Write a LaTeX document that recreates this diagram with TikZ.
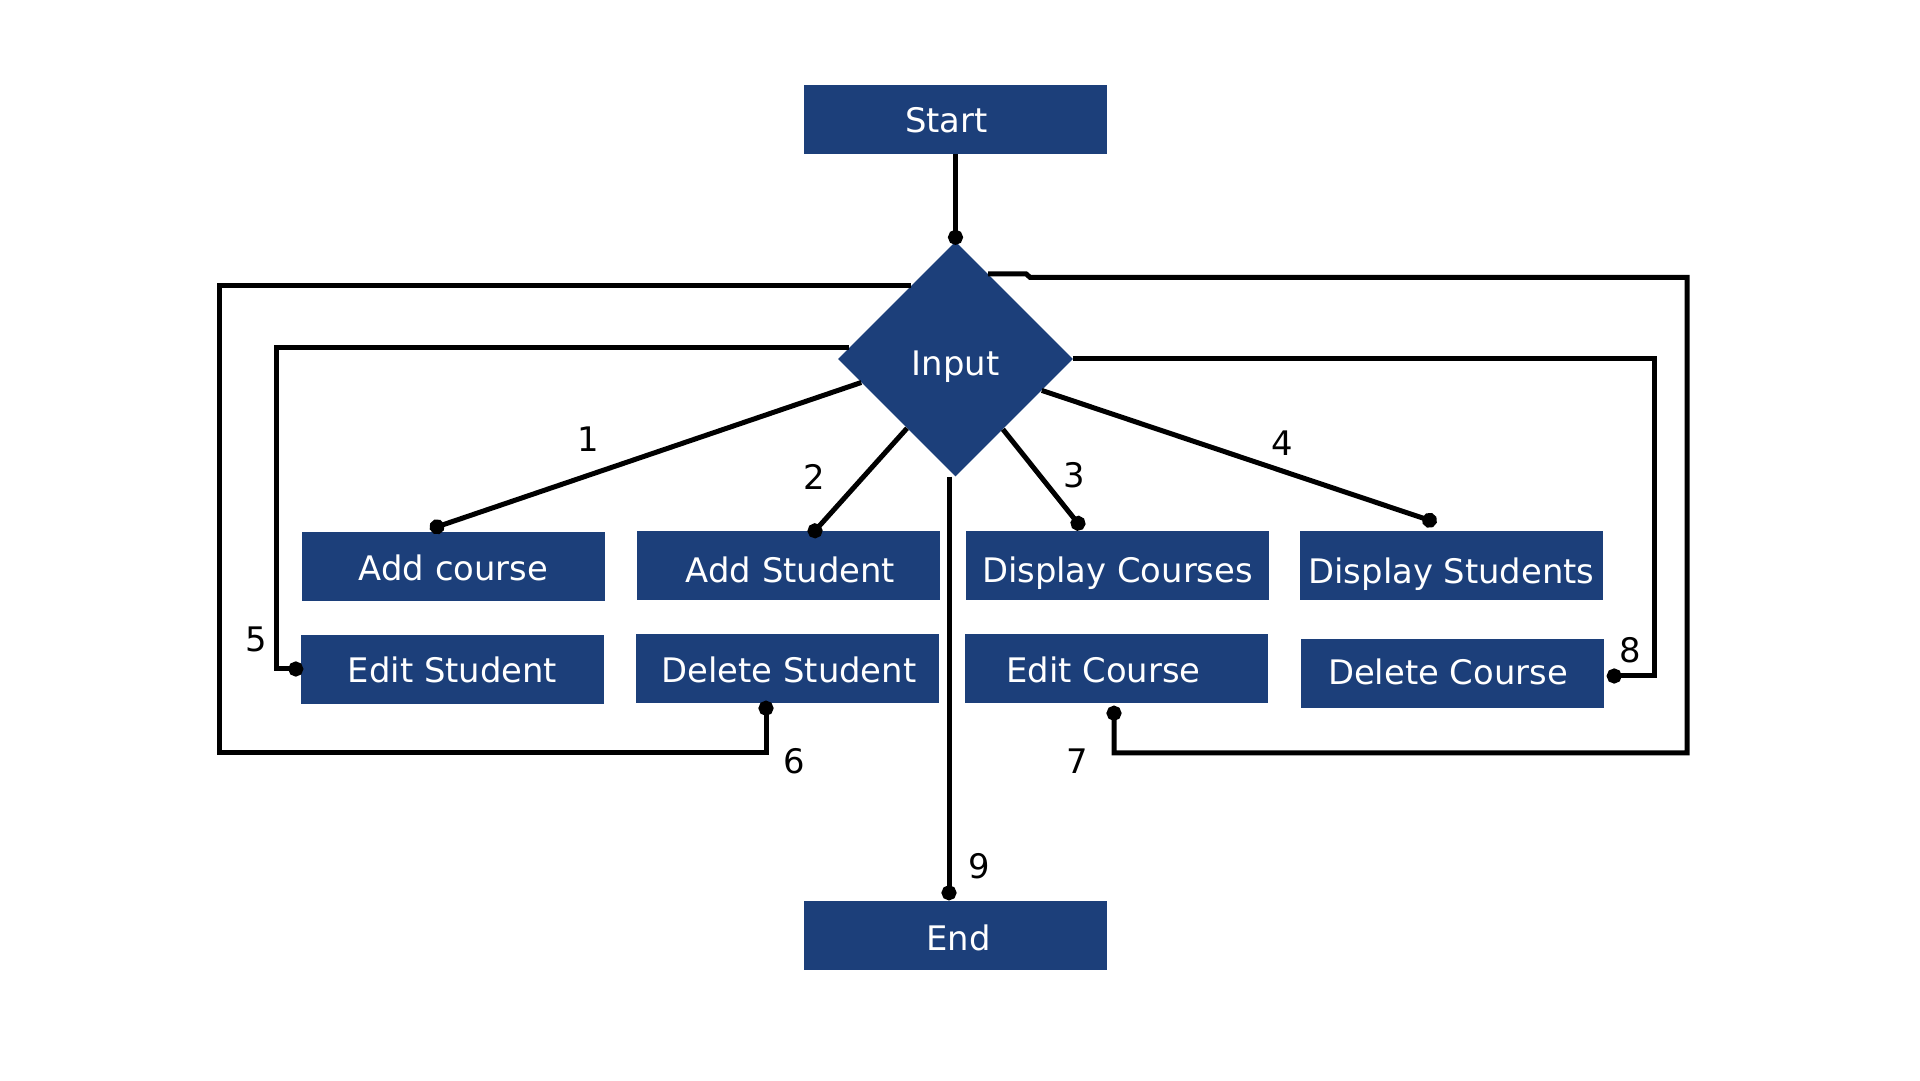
\documentclass[tikz,border=0pt]{standalone}
\usepackage{fontspec}
\setmainfont{DejaVu Sans}
\usetikzlibrary{shapes.geometric,arrows.meta,calc}
\definecolor{navy}{RGB}{28,63,122}
\newcommand{\boxfont}{\fontsize{33.8pt}{40pt}\selectfont}
\begin{document}
\begin{tikzpicture}[x=1pt,y=1pt,
 box/.style={fill=navy,text=white,minimum width=303pt,minimum height=69pt,inner sep=0pt,font=\boxfont,text height=28.6pt,text depth=0pt},
 dec/.style={diamond,fill=navy,text=white,minimum width=235pt,minimum height=235pt,aspect=1,inner sep=0pt,font=\boxfont,text height=32.6pt,text depth=0pt},
 conn/.style={line width=5pt,black},
 dotend/.style={-{Circle[length=15pt,width=15pt]},shorten >=-7.5pt},
 lbl/.style={font=\boxfont,text=black,inner sep=0pt}]
\useasboundingbox[fill=white] (0,0) rectangle (1920,1080);

% nodes
\node[box,text height=26.6pt] (start) at (955.5,960.5) {Start\hspace*{18pt}};
\node[dec] (input) at (955.5,721) {Input};
\node[box,text height=27.6pt] (addc)  at (453.5,513.5) {Add course};
\node[box,text height=34.6pt] (adds)  at (788,514.5) {\hspace*{5pt}Add Student};
\node[box,text height=33.6pt] (dispc) at (1117.5,514.5) {Display Courses};
\node[box,text height=36.6pt] (disps) at (1451.5,514.5) {Display Students};
\node[box,text height=25.6pt] (edits) at (452.5,410.5) {Edit Student};
\node[box,text height=28.6pt] (dels)  at (787.5,411.5) {\hspace*{3pt}Delete Student};
\node[box,text height=28.6pt] (editc) at (1116.5,411.5) {Edit Course\hspace*{26pt}};
\node[box,text height=22.6pt] (delc)  at (1452.5,406.5) {Delete Course\hspace*{9pt}};
\node[box,text height=30.6pt] (end)   at (955.5,144.5) {\hspace*{6pt}End};

% connectors
\draw[conn,dotend] (start.south) -- ($(input.north)+(0,4)$);
\draw[conn,dotend] (input.194.3) -- ($(addc.north)+(-16.5,5)$);
\draw[conn,dotend] (input.235) -- ($(adds.north)+(27,0)$);
\draw[conn,dotend] (input.304) -- ($(dispc.north)+(-39.5,7.5)$);
\draw[conn,dotend] (input.340.4) -- ($(disps.north)+(-22,10.5)$);
\draw[conn,dotend] (input.174) -| ($(edits.west)+(-24,0.5)$) -- ($(edits.west)+(-5,0.5)$);
\draw[conn,dotend] (input.121.65) -| (219,327) -| ($(dels.south)+(-21.5,-5)$);
\draw[conn,dotend] (input.69) -- ++(38,0) -- ++(4,-3.5) -| (1687,327) -| ($(editc.south)+(-2.5,-10)$);
\draw[conn,dotend] (input.east) -| ($(delc.east)+(50,-2.5)$) -- ($(delc.east)+(10,-2.5)$);
\draw[conn,dotend] ($(input.south)+(-6.5,0)$) -- ($(end.north)+(-6.5,8)$);

% labels
\node[lbl] (l1) at (588,641) {1};
\node[lbl] (l2) at (814,603) {2};
\node[lbl] (l3) at (1074,605) {3};
\node[lbl] (l4) at (1282,637) {4};
\node[lbl] (l5) at (256,441) {5};
\node[lbl] (l6) at (794,319) {6};
\node[lbl] (l7) at (1077,319) {7};
\node[lbl] (l8) at (1630,430) {8};
\node[lbl] (l9) at (979,214) {9};
\end{tikzpicture}
\end{document}
